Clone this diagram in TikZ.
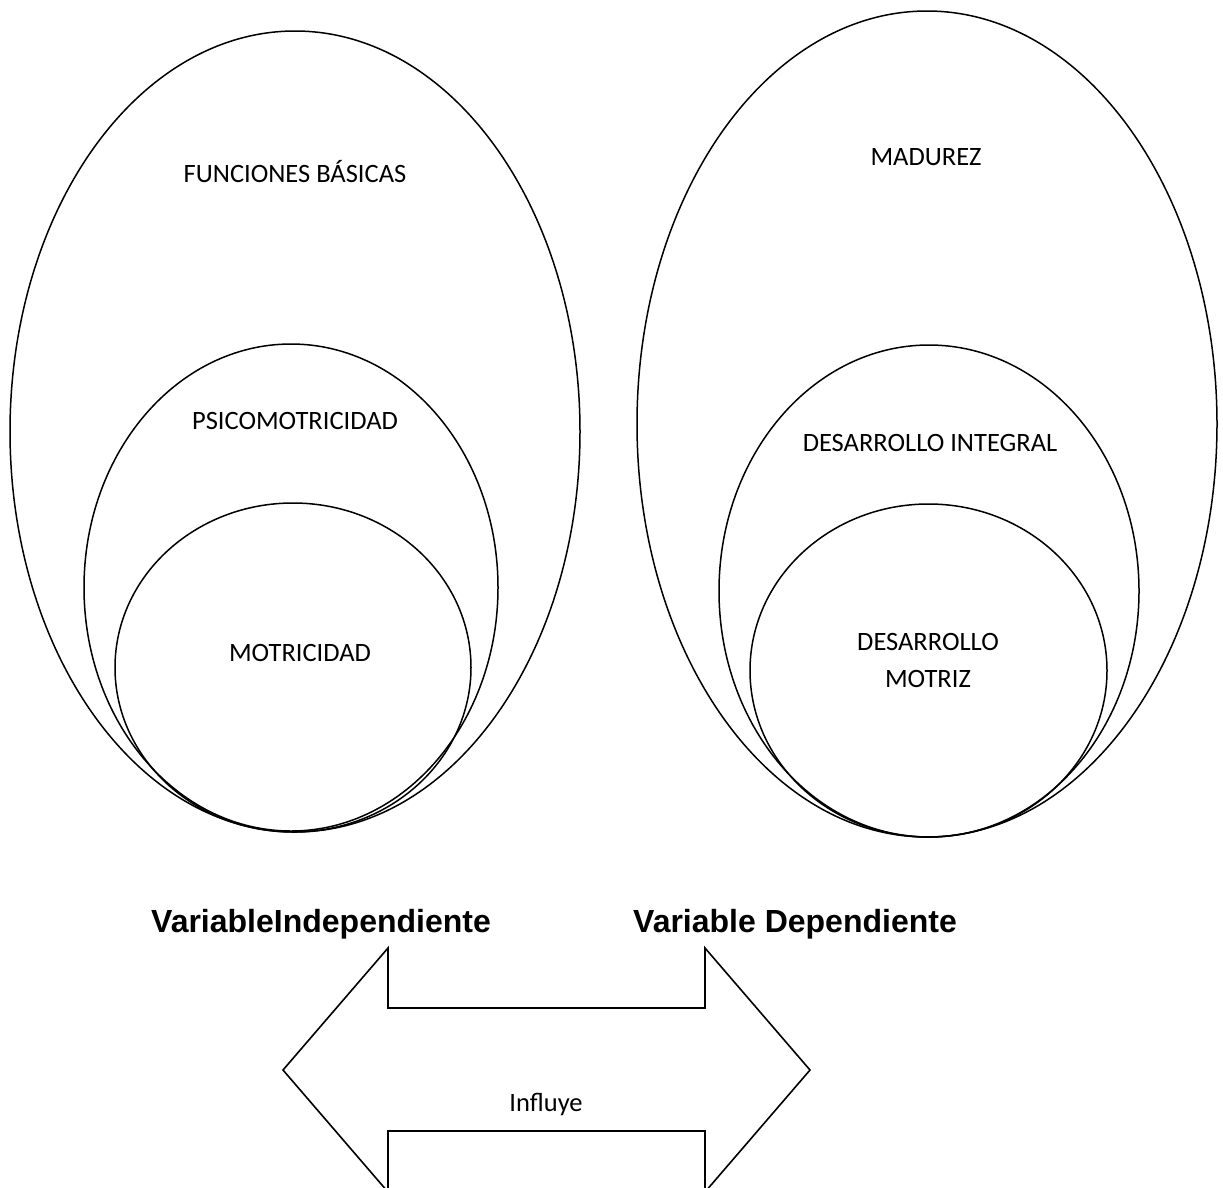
\documentclass[tikz,border=0pt]{standalone}
\usepackage{fontspec}
\setmainfont{Carlito}
\newfontfamily\arialbold{Liberation Sans}[BoldFont={Liberation Sans Bold}]
\begin{document}
\begin{tikzpicture}[x=1pt,y=-1pt,
  ring/.style={draw=black,line width=1.5pt},
  lbl/.style={anchor=base,inner sep=0pt,font=\fontsize{26.5}{37}\selectfont},
  varlbl/.style={anchor=base,inner sep=0pt,font=\arialbold\bfseries\fontsize{32}{38}\selectfont},
  arrowshape/.style={draw=black,line width=1.6pt,line join=miter}]
\useasboundingbox (0,0) rectangle (1223,1187);
\clip (0,0) rectangle (1223,1187);
% left ellipses
\draw[ring] (295,431.5) ellipse [x radius=285pt, y radius=400.5pt];
\draw[ring] (291,587.5) ellipse [x radius=207pt, y radius=243.5pt];
\draw[ring] (293,667.5) ellipse [x radius=178pt, y radius=164.5pt];
% right ellipses
\draw[ring] (927,424) ellipse [x radius=290pt, y radius=413pt];
\draw[ring] (929,591) ellipse [x radius=210pt, y radius=246pt];
\draw[ring] (928.5,670.5) ellipse [x radius=178.5pt, y radius=166.5pt];
% labels
\node[lbl] (fb) at (295,182) {FUNCIONES BÁSICAS};
\node[lbl] (psi) at (295,429) {PSICOMOTRICIDAD};
\node[lbl] (mot) at (300,661) {MOTRICIDAD};
\node[lbl] (mad) at (926,165) {MADUREZ};
\node[lbl] (di) at (930,451) {DESARROLLO INTEGRAL};
\node[lbl] (dm1) at (928,650) {DESARROLLO};
\node[lbl] (dm2) at (928,687) {MOTRIZ};
\node[varlbl] (vi) at (321,932) {VariableIndependiente};
\node[varlbl] (vd) at (795,932) {Variable Dependiente};
% double arrow
\draw[arrowshape] (283,1070) -- (388,948) -- (388,1008) -- (705,1008) -- (705,948)
  -- (810,1070) -- (705,1192) -- (705,1131) -- (388,1131) -- (388,1192) -- cycle;
\node[lbl] (inf) at (546,1111) {Influye};
\end{tikzpicture}
\end{document}
